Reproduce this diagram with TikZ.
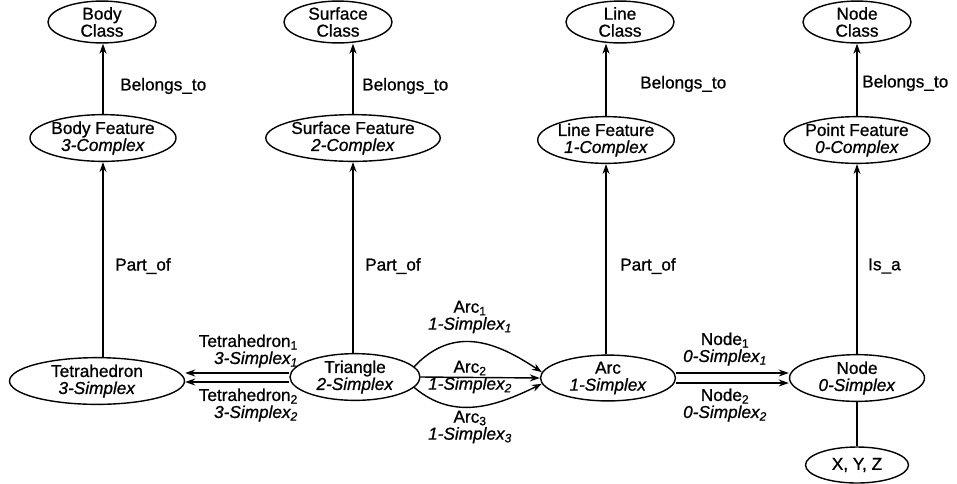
\documentclass[tikz,border=0pt]{standalone}
\usepackage{fontspec}
\setmainfont{Liberation Sans}[FakeBold=0.9]
\usetikzlibrary{shapes.geometric,arrows.meta}
\begin{document}
\begin{tikzpicture}[x=1pt,y=-1pt,
  font=\fontsize{17.2}{17}\selectfont,
  ent/.style={draw, ellipse, line width=1.4pt, align=center, inner sep=0pt},
  cls/.style={ent, minimum width=108pt, minimum height=40pt},
  feat/.style={ent, minimum width=131pt, minimum height=44pt},
  arr/.style={line width=1.4pt, -{Stealth[length=10pt,width=7pt]}},
  lnk/.style={line width=1.4pt},
  lbl/.style={align=center, inner sep=0pt}]
\useasboundingbox (0,0) rectangle (957,483);

% class row
\node[cls] (bc) at (102,22) {Body\\Class};
\node[cls] (sc) at (338,22) {Surface\\Class};
\node[cls] (lc) at (620,22) {Line\\Class};
\node[cls] (nc) at (857,22) {Node\\Class};

% feature row
\node[feat] (bf) at (103,138) {Body Feature\\\textit{3-Complex}};
\node[feat] (sf) at (353,138) {Surface Feature\\\textit{2-Complex}};
\node[feat] (lf) at (606,140) {Line Feature\\\textit{1-Complex}};
\node[feat] (pf) at (857,140) {Point Feature\\\textit{0-Complex}};

% simplex row
\node[ent, minimum width=175pt, minimum height=46pt] (tet) at (97,381) {Tetrahedron\\\textit{3-Simplex}};
\node[ent, minimum width=130pt, minimum height=46pt] (tri) at (355,377) {Triangle\\\textit{2-Simplex}};
\node[ent, minimum width=135pt, minimum height=44pt] (arc) at (608,378) {Arc\\\textit{1-Simplex}};
\node[ent, minimum width=135pt, minimum height=44pt] (nd) at (857,378) {Node\\\textit{0-Simplex}};
\node[ent, minimum width=103pt, minimum height=36pt] (xyz) at (857,465) {X, Y, Z};

% belongs_to
\draw[arr] (bf.north) -- (bf.north |- bc.south);
\draw[arr] (sf.north) -- (sf.north |- sc.south);
\draw[arr] (lf.north) -- (lf.north |- lc.south);
\draw[arr] (pf.north) -- (pf.north |- nc.south);
\node[lbl, anchor=west] (lb1) at (120,86) {Belongs\_to};
\node[lbl, anchor=west] (lb2) at (362,86) {Belongs\_to};
\node[lbl, anchor=west] (lb3) at (640,84) {Belongs\_to};
\node[lbl, anchor=west] (lb4) at (862,83) {Belongs\_to};

% part_of / is_a
\draw[arr] (tet.north -| bf.south) -- (bf.south);
\draw[arr] (tri.north -| sf.south) -- (sf.south);
\draw[arr] (arc.north -| lf.south) -- (lf.south);
\draw[arr] (nd.north) -- (pf.south);
\node[lbl, anchor=west] (po1) at (115,266) {Part\_of};
\node[lbl, anchor=west] (po2) at (365,266) {Part\_of};
\node[lbl, anchor=west] (po3) at (620,266) {Part\_of};
\node[lbl, anchor=west] (isa) at (868,266) {Is\_a};

% node to coordinates
\draw[lnk] (nd.south) -- (xyz.north);

% triangle to tetrahedron
\coordinate (ya) at (0,373);
\coordinate (yb) at (0,382);
\draw[arr] (tri.west |- ya) -- (tet.east |- ya);
\draw[arr] (tri.west |- yb) -- (tet.east |- yb);
\node[lbl, anchor=east, align=right] (t1) at (298,351) {Tetrahedron\textsubscript{1}\\\textit{3-Simplex\textsubscript{1}}};
\node[lbl, anchor=east, align=right] (t2) at (298,405) {Tetrahedron\textsubscript{2}\\\textit{3-Simplex\textsubscript{2}}};

% triangle to arc
\draw[arr] (tri.10) .. controls +(40,-42) and +(-45,-30) .. (arc.175);
\draw[arr] (tri.east) -- (arc.west);
\draw[arr] (tri.-10) .. controls +(40,34) and +(-45,22) .. (arc.185);
\node[lbl] (a1) at (470,317) {Arc\textsubscript{1}\\\textit{1-Simplex\textsubscript{1}}};
\node[lbl] (a2) at (470,377) {Arc\textsubscript{2}\\\textit{1-Simplex\textsubscript{2}}};
\node[lbl] (a3) at (470,427) {Arc\textsubscript{3}\\\textit{1-Simplex\textsubscript{3}}};

% arc to node
\coordinate (yc) at (0,373);
\coordinate (yd) at (0,383);
\draw[arr] (arc.east |- yc) -- (nd.west |- yc);
\draw[arr] (arc.east |- yd) -- (nd.west |- yd);
\node[lbl] (n1) at (725,349) {Node\textsubscript{1}\\\textit{0-Simplex\textsubscript{1}}};
\node[lbl] (n2) at (725,405) {Node\textsubscript{2}\\\textit{0-Simplex\textsubscript{2}}};
\end{tikzpicture}
\end{document}
